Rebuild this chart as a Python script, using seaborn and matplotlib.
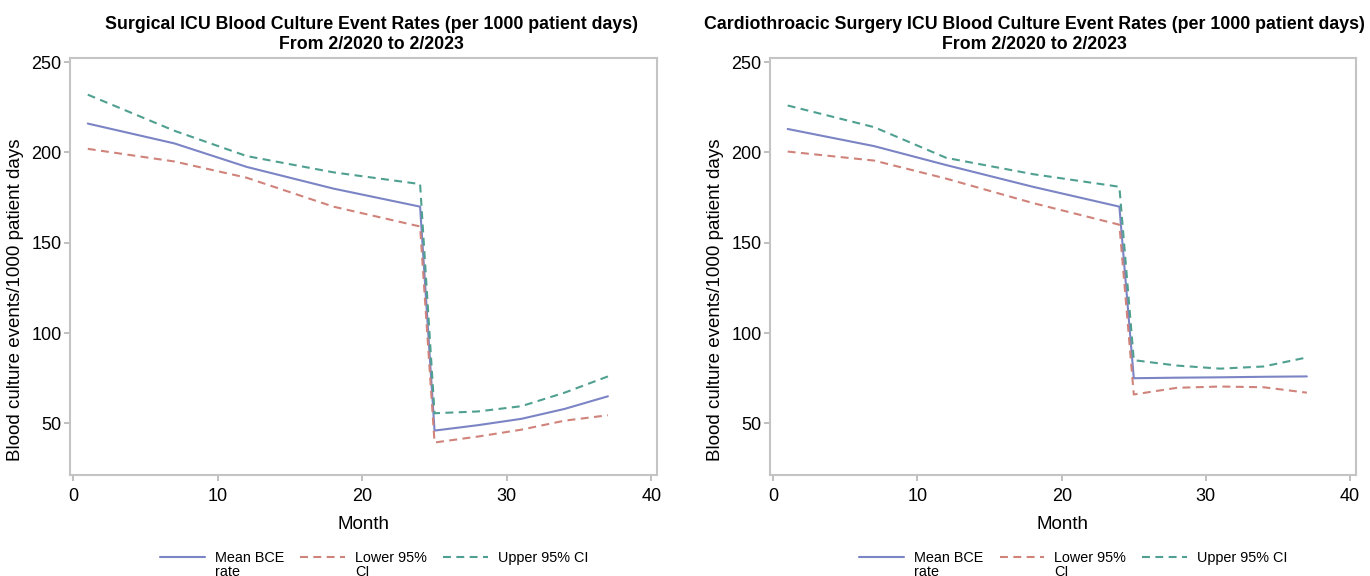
import matplotlib
matplotlib.use("Agg")
import matplotlib.pyplot as plt
import pandas as pd
import seaborn as sns

# months (line knots)
months = [1, 7, 12, 18, 24, 25, 28, 31, 34, 37]

sicu_mean = [216, 205, 192, 180, 170, 46, 49, 52.5, 58, 65]
sicu_lower = [202, 195, 186, 170, 159, 39.4, 42.7, 46.5, 51.5, 54.5]
sicu_upper = [232, 212, 198, 189, 182.5, 55.6, 56.6, 59.5, 67, 76]

ctsicu_mean = [213, 203.5, 193, 181, 170, 75, 75.3, 75.5, 75.8, 76]
ctsicu_lower = [200.5, 195.5, 185.5, 172, 160, 66, 69.7, 70.4, 70, 67]
ctsicu_upper = [226, 214, 197, 188, 181, 85, 82, 80.3, 81.5, 86.5]

titles = [
    "Surgical ICU Blood Culture Event Rates (per 1000 patient days)\nFrom 2/2020 to 2/2023",
    "Cardiothroacic Surgery ICU Blood Culture Event Rates (per 1000 patient days)\nFrom 2/2020 to 2/2023",
]
title_x = [0.514, 0.452]
series_labels = ["Mean BCE\nrate", "Lower 95%\nCI", "Upper 95% CI"]

palette = {
    "Mean BCE\nrate": "#7b84c4",
    "Lower 95%\nCI": "#d0837a",
    "Upper 95% CI": "#4fa090",
}
dashes = {
    "Mean BCE\nrate": "",
    "Lower 95%\nCI": (3.8, 2.6),
    "Upper 95% CI": (3.8, 2.6),
}


def long_frame(mean, lower, upper):
    frames = []
    for lab, vals in zip(series_labels, [mean, lower, upper]):
        frames.append(pd.DataFrame({"Month": months, "Rate": vals, "Series": lab}))
    return pd.concat(frames, ignore_index=True)


panels = [
    long_frame(sicu_mean, sicu_lower, sicu_upper),
    long_frame(ctsicu_mean, ctsicu_lower, ctsicu_upper),
]

sns.set_theme(style="white")
plt.rcParams["font.family"] = ["Liberation Sans", "DejaVu Sans"]
plt.rcParams["text.color"] = "black"
plt.rcParams["axes.labelcolor"] = "black"
plt.rcParams["xtick.color"] = "black"
plt.rcParams["ytick.color"] = "black"

fig = plt.figure(figsize=(13.7, 5.76), dpi=100)
axes = [
    fig.add_axes([0.0511, 0.1753, 0.4285, 0.724]),
    fig.add_axes([0.5620, 0.1753, 0.4277, 0.724]),
]

for ax, df, title, tx in zip(axes, panels, titles, title_x):
    sns.lineplot(
        data=df,
        x="Month",
        y="Rate",
        hue="Series",
        style="Series",
        palette=palette,
        dashes=dashes,
        linewidth=1.5,
        ax=ax,
        sort=False,
    )
    ax.set_xlim(-0.23, 40.4)
    ax.set_ylim(21.4, 252.3)
    ax.set_xticks([0, 10, 20, 30, 40])
    ax.set_yticks([50, 100, 150, 200, 250])
    ax.tick_params(axis="both", labelsize=13, length=4, width=1.2, color="#b4b4b4",
                   direction="out", pad=2, bottom=True, left=True)
    ax.tick_params(axis="x", pad=5)
    for sp in ax.spines.values():
        sp.set_color("#c4c4c4")
        sp.set_linewidth(1.5)
    ax.set_xlabel("Month", fontsize=13.5, labelpad=8)
    ax.set_ylabel("Blood culture events/1000 patient days", fontsize=13.5)
    ax.yaxis.set_label_coords(-0.078, 0.42)
    ax.set_title(title, fontsize=12.8, fontweight="bold", pad=6.5,
                 linespacing=1.25, x=tx)

    handles, labels = ax.get_legend_handles_labels()
    ax.get_legend().remove()
    first_lines = [lab.split("\n")[0] for lab in labels]
    leg = ax.legend(
        handles,
        first_lines,
        loc="upper center",
        bbox_to_anchor=(0.518, -0.152),
        ncol=3,
        frameon=False,
        fontsize=10.4,
        handlelength=3.1,
        columnspacing=1.1,
        handletextpad=0.7,
    )
    # wrapped second line of the legend labels sits under the first line
    # (drawn after the legend so the anchor text already has its place)
    for txt, lab in zip(leg.get_texts(), labels):
        parts = lab.split("\n")
        if len(parts) > 1:
            ax.annotate(parts[1], xy=(0, 0), xycoords=txt, xytext=(0, 0),
                        textcoords="offset points", ha="left", va="top",
                        fontsize=10.4, annotation_clip=False, zorder=6)

fig.savefig("out.png", dpi=100)
